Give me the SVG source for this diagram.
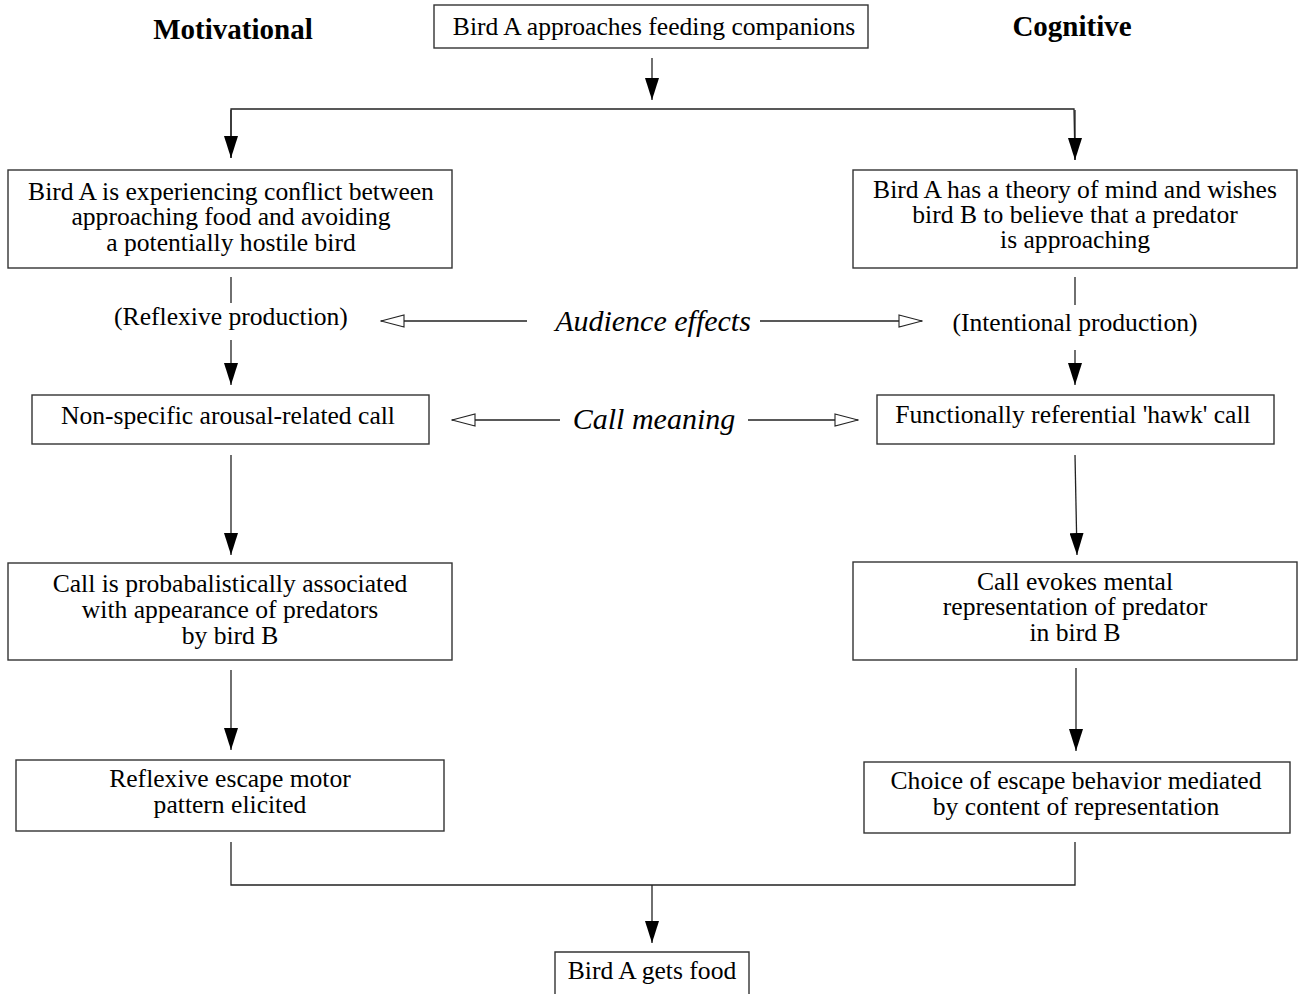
<svg xmlns="http://www.w3.org/2000/svg" width="1298" height="994" viewBox="0 0 1298 994">
<defs>
<style>
.box{fill:#fff;stroke:#333;stroke-width:1.4}
.t{font-family:"Liberation Serif","Times New Roman",serif;font-size:25.6px;fill:#000;text-anchor:middle}
.h{font-family:"Liberation Serif","Times New Roman",serif;font-size:29px;font-weight:bold;fill:#000;text-anchor:middle}
.i{font-family:"Liberation Serif","Times New Roman",serif;font-size:30px;font-style:italic;fill:#000;text-anchor:middle}
.c{fill:none;stroke:#222;stroke-width:1.3}
</style>
<marker id="arr" viewBox="0 0 22 14" refX="22" refY="7" markerWidth="22" markerHeight="14" markerUnits="userSpaceOnUse" orient="auto">
<path d="M0,0 L22,7 L0,14 z" fill="#000"/>
</marker>
<marker id="open" viewBox="-1 -1 25 14" refX="23" refY="6" markerWidth="25" markerHeight="14" markerUnits="userSpaceOnUse" orient="auto-start-reverse">
<path d="M0,0 L23,6 L0,12 z" fill="#fff" stroke="#222" stroke-width="1.1"/>
</marker>
</defs>
<rect width="1298" height="994" fill="#fff"/>

<text class="h" x="233" y="39">Motivational</text>
<text class="h" x="1072" y="36">Cognitive</text>

<g id="connectors">
<line class="c" x1="652" y1="58" x2="652" y2="100" marker-end="url(#arr)"/>
<polyline class="c" points="231,158 231,109 1074,109 1075,160"/>
<line class="c" x1="231" y1="110" x2="231" y2="158" marker-end="url(#arr)"/>
<line class="c" x1="1075" y1="110" x2="1075" y2="160" marker-end="url(#arr)"/>

<line class="c" x1="231" y1="277" x2="231" y2="303"/>
<line class="c" x1="231" y1="340" x2="231" y2="385" marker-end="url(#arr)"/>
<line class="c" x1="1075" y1="277" x2="1075" y2="305"/>
<line class="c" x1="1075" y1="350" x2="1075" y2="385" marker-end="url(#arr)"/>

<line class="c" x1="381" y1="321" x2="527" y2="321" marker-start="url(#open)"/>
<line class="c" x1="760" y1="321" x2="922" y2="321" marker-end="url(#open)"/>
<line class="c" x1="452" y1="420" x2="560" y2="420" marker-start="url(#open)"/>
<line class="c" x1="748" y1="420" x2="858" y2="420" marker-end="url(#open)"/>

<line class="c" x1="231" y1="455" x2="231" y2="555" marker-end="url(#arr)"/>
<line class="c" x1="1075" y1="455" x2="1077" y2="555" marker-end="url(#arr)"/>
<line class="c" x1="231" y1="670" x2="231" y2="750" marker-end="url(#arr)"/>
<line class="c" x1="1076" y1="668" x2="1076" y2="751" marker-end="url(#arr)"/>

<polyline class="c" points="231,842 231,885 1075,885 1075,842"/>
<line class="c" x1="652" y1="885" x2="652" y2="943" marker-end="url(#arr)"/>
</g>

<text class="i" x="653" y="331">Audience effects</text>
<text class="i" x="654" y="429">Call meaning</text>
<text class="t" x="231" y="325">(Reflexive production)</text>
<text class="t" x="1075" y="331">(Intentional production)</text>

<g id="start">
<rect class="box" x="434" y="5" width="434" height="43"/>
<text class="t" x="654" y="35">Bird A approaches feeding companions</text>
</g>

<g id="conflict">
<rect class="box" x="8" y="170" width="444" height="98"/>
<text class="t" x="231" y="200">Bird A is experiencing conflict between</text>
<text class="t" x="231" y="225">approaching food and avoiding</text>
<text class="t" x="231" y="251">a potentially hostile bird</text>
</g>

<g id="theory">
<rect class="box" x="853" y="170" width="444" height="98"/>
<text class="t" x="1075" y="198">Bird A has a theory of mind and wishes</text>
<text class="t" x="1075" y="223">bird B to believe that a predator</text>
<text class="t" x="1075" y="248">is approaching</text>
</g>

<g id="arousal">
<rect class="box" x="32" y="395" width="397" height="49"/>
<text class="t" x="228" y="424">Non-specific arousal-related call</text>
</g>

<g id="hawk">
<rect class="box" x="877" y="395" width="397" height="49"/>
<text class="t" x="1073" y="423">Functionally referential 'hawk' call</text>
</g>

<g id="associated">
<rect class="box" x="8" y="563" width="444" height="97"/>
<text class="t" x="230" y="592">Call is probabalistically associated</text>
<text class="t" x="230" y="618">with appearance of predators</text>
<text class="t" x="230" y="644">by bird B</text>
</g>

<g id="evokes">
<rect class="box" x="853" y="562" width="444" height="98"/>
<text class="t" x="1075" y="590">Call evokes mental</text>
<text class="t" x="1075" y="615">representation of predator</text>
<text class="t" x="1075" y="641">in bird B</text>
</g>

<g id="reflexive">
<rect class="box" x="16" y="760" width="428" height="71"/>
<text class="t" x="230" y="787">Reflexive escape motor</text>
<text class="t" x="230" y="813">pattern elicited</text>
</g>

<g id="choice">
<rect class="box" x="864" y="762" width="426" height="71"/>
<text class="t" x="1076" y="789">Choice of escape behavior mediated</text>
<text class="t" x="1076" y="815">by content of representation</text>
</g>

<g id="food">
<polyline class="box" fill="none" points="555,996 555,952 749,952 749,996"/>
<text class="t" x="652" y="979">Bird A gets food</text>
</g>
</svg>
